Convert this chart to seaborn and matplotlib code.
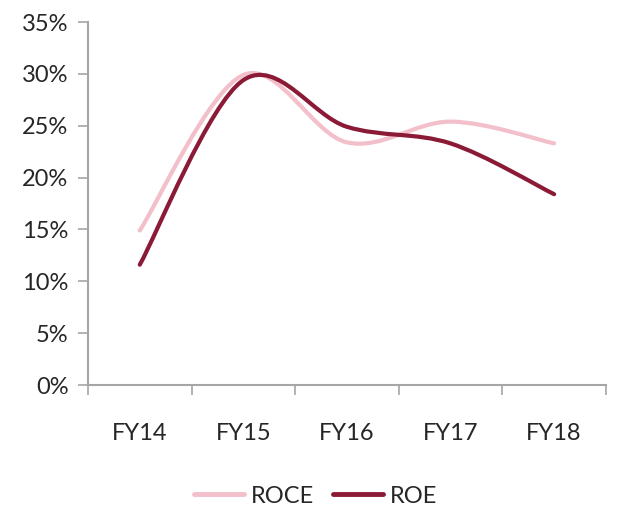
import numpy as np
import seaborn as sns
import matplotlib.pyplot as plt
from matplotlib.path import Path
from matplotlib.patches import PathPatch
from matplotlib.lines import Line2D

years = ['FY14', 'FY15', 'FY16', 'FY17', 'FY18']
roce = [14.9, 29.9, 23.4, 25.4, 23.3]
roe = [11.6, 29.4, 24.9, 23.3, 18.4]

pink = '#F2BFCA'
maroon = '#8A1A36'
grey = '#A6A6A6'

sns.set_theme(style='white')
plt.rcParams['font.family'] = ['Lato', 'DejaVu Sans']


def smooth_path(ys):
    # Excel-style smoothed line: cubic Bezier through every point
    pts = np.column_stack([np.arange(len(ys)), ys]).astype(float)
    ext = np.vstack([pts[0], pts, pts[-1]])
    verts = [pts[0]]
    codes = [Path.MOVETO]
    for i in range(len(pts) - 1):
        p0, p1, p2, p3 = ext[i], ext[i + 1], ext[i + 2], ext[i + 3]
        verts += [p1 + (p2 - p0) / 6, p2 - (p3 - p1) / 6, p2]
        codes += [Path.CURVE4] * 3
    return Path(verts, codes)


fig = plt.figure(figsize=(6.17, 5.13), dpi=100)
ax = fig.add_axes([0.1426, 0.2495, 0.8394, 0.7075])

sns.lineplot(x=list(range(len(years))), y=roce, ax=ax, visible=False)
for vals, col in [(roce, pink), (roe, maroon)]:
    ax.add_patch(PathPatch(smooth_path(vals), facecolor='none', edgecolor=col,
                           lw=3, capstyle='round', zorder=3))

ax.set_xlim(-0.5, len(years) - 0.5)
ax.set_ylim(0, 35)
ax.set_yticks(range(0, 36, 5))
ax.set_yticklabels([f'{v}%' for v in range(0, 36, 5)], fontsize=17)
ax.set_xticks(range(len(years)))
ax.set_xticklabels(years, fontsize=17)
ax.set_xticks(np.arange(-0.5, len(years), 1), minor=True)
ax.tick_params(axis='x', which='major', length=0, pad=27)
ax.tick_params(axis='x', which='minor', length=7, width=1.2, color=grey, direction='out', bottom=True)
ax.tick_params(axis='y', length=7, width=1.2, color=grey, direction='out', left=True, pad=7)
ax.set_xlabel('')
ax.set_ylabel('')

for s in ['top', 'right']:
    ax.spines[s].set_visible(False)
for s in ['left', 'bottom']:
    ax.spines[s].set_color(grey)
    ax.spines[s].set_linewidth(1.5)

handles = [Line2D([], [], color=pink, lw=3.5), Line2D([], [], color=maroon, lw=3.5)]
fig.legend(handles, ['ROCE', 'ROE'], loc='center', bbox_to_anchor=(0.512, 0.033),
           ncol=2, frameon=False, fontsize=17, handlelength=2.1,
           handletextpad=0.3, columnspacing=0.8)

fig.savefig('out.png', dpi=100)
